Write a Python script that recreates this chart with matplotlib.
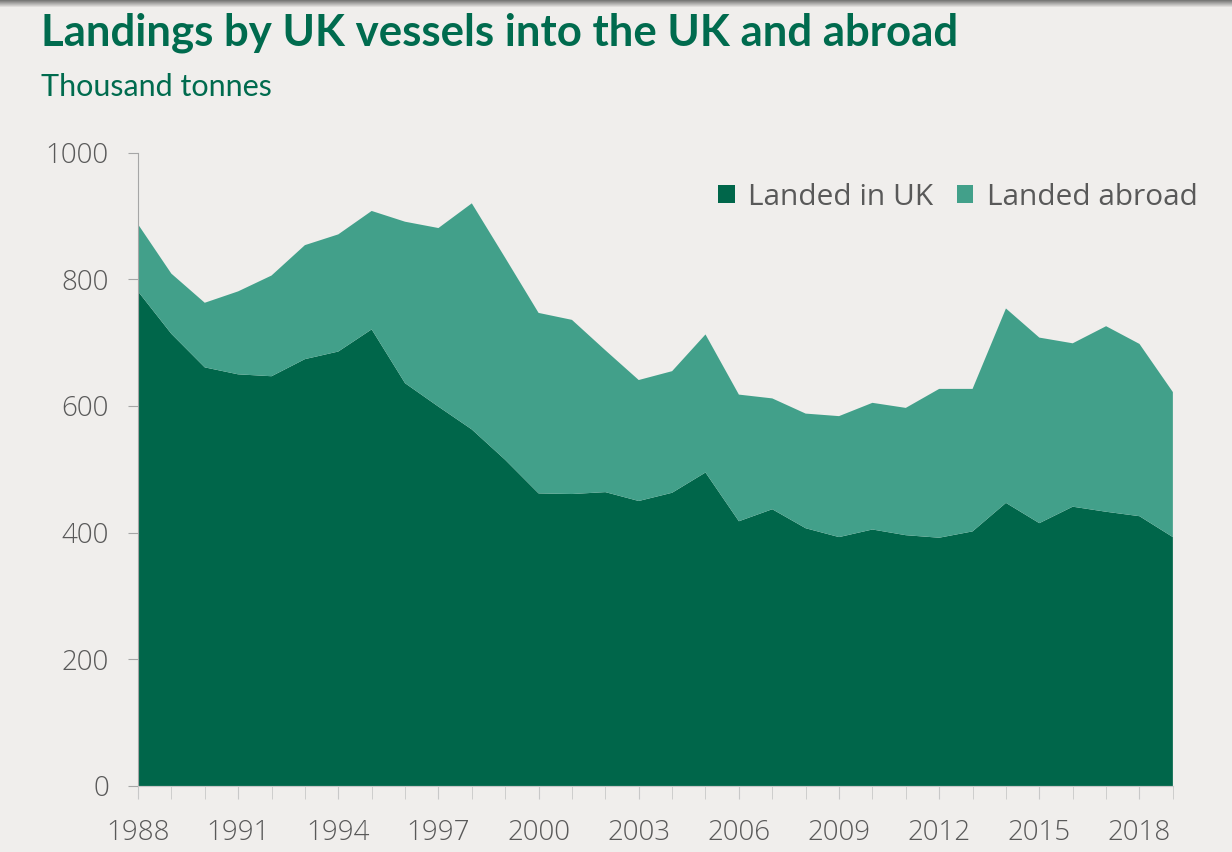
import numpy as np
import matplotlib.pyplot as plt
from matplotlib.patches import Rectangle

years = np.arange(1988, 2020)

# thousand tonnes landed in the UK
landed_uk = [781, 714, 661, 650, 647, 674, 686, 721, 636, 599, 563, 515,
             462, 461, 464, 450, 463, 495, 418, 437, 407, 393, 405, 396,
             392, 402, 447, 415, 441, 433, 426, 393]
# total landings (UK + abroad)
landed_total = [887, 809, 763, 781, 806, 854, 871, 908, 891, 881, 920, 834,
                747, 736, 688, 641, 655, 713, 618, 612, 588, 584, 605, 597,
                627, 627, 754, 708, 699, 726, 698, 622]
landed_abroad = [t - u for t, u in zip(landed_total, landed_uk)]

xticks = list(range(1988, 2019, 3))
yticks = [0, 200, 400, 600, 800, 1000]

bg = '#f0eeec'
dark_green = '#00664a'
teal = '#42a08a'
title_green = '#006b4e'
grey_text = '#595959'

plt.rcParams['font.family'] = ['Open Sans', 'DejaVu Sans']

fig = plt.figure(figsize=(12.32, 8.52), dpi=100, facecolor=bg)
ax = fig.add_axes([0.112, 0.0775, 0.840, 0.7433], facecolor=bg)

ax.stackplot(years, landed_uk, landed_abroad, colors=[dark_green, teal],
             labels=['Landed in UK', 'Landed abroad'], linewidth=0)

ax.set_xlim(1988, 2019)
ax.set_ylim(0, 1000)

for side in ['top', 'right']:
    ax.spines[side].set_visible(False)
ax.spines['left'].set_color('#a6a6a6')
ax.spines['bottom'].set_color('#c8c8c8')

ax.set_yticks(yticks)
ax.set_xticks(years, minor=True)
ax.set_xticks(xticks)
ax.tick_params(axis='y', colors='#a6a6a6', labelcolor=grey_text,
               labelsize=20, length=7, pad=14)
ax.tick_params(axis='x', which='both', colors='#c8c8c8', length=9)
ax.tick_params(axis='x', which='major', labelcolor=grey_text,
               labelsize=20, pad=15)
for lab in ax.get_xticklabels() + ax.get_yticklabels():
    lab.set_fontweight('light')

leg = ax.legend(loc='upper right', ncol=2, frameon=False, fontsize=21.5,
                bbox_to_anchor=(1.05, 0.995), handlelength=0.55,
                handleheight=0.55, handletextpad=0.45, columnspacing=0.8)
for t in leg.get_texts():
    t.set_color(grey_text)

fig.text(0.033, 0.961, 'Landings by UK vessels into the UK and abroad',
         fontsize=31.5, fontweight='bold', color=title_green,
         va='center', ha='left', family=['Lato', 'DejaVu Sans'])
fig.text(0.033, 0.898, 'Thousand tonnes', fontsize=22, color=title_green,
         va='center', ha='left', family=['Lato', 'DejaVu Sans'])

# dark shade along the top edge
for i, a in enumerate(np.linspace(0.75, 0.0, 8)):
    fig.patches.append(Rectangle((0, 1 - (i + 1) * 0.0012), 1, 0.0012,
                                 transform=fig.transFigure,
                                 facecolor='#505050', alpha=a,
                                 edgecolor='none'))

fig.savefig('out.png', dpi=100, facecolor=bg)
